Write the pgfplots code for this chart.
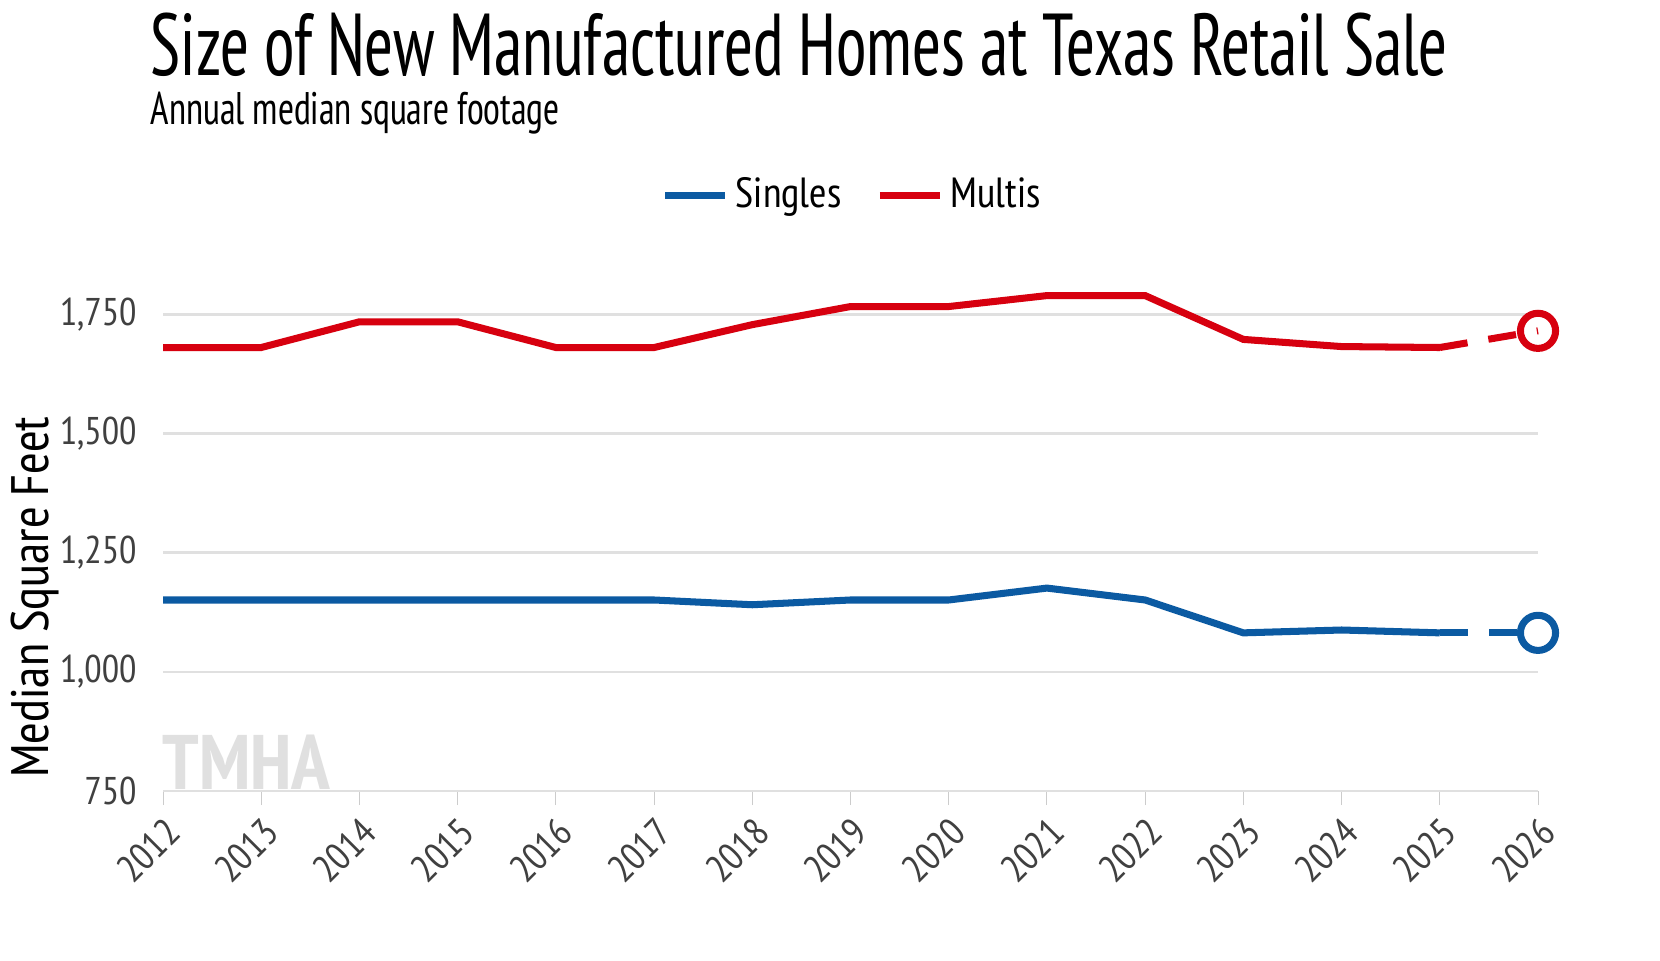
\documentclass[border=0pt]{standalone}
\usepackage{pgfplots}
\pgfplotsset{compat=1.18}
\usepackage{fontspec}
\setmainfont{PT Sans Narrow}
\definecolor{cblue}{HTML}{0B5AA2}
\definecolor{cred}{HTML}{D7000F}
\begin{document}
\begin{tikzpicture}
\useasboundingbox[fill=white] (0,0) rectangle (16.6,9.6);
\node[anchor=west,inner sep=0pt,font=\fontsize{25}{27}\selectfont] at (1.5,9.15) {\scalebox{0.8}[1]{Size of New Manufactured Homes at Texas Retail Sale}};
\node[anchor=west,inner sep=0pt,font=\fontsize{13}{14}\selectfont] at (1.5,8.47) {\scalebox{0.85}[1]{Annual median square footage}};
\begin{axis}[at={(1.63cm,1.69cm)},anchor=south west,
  width=13.75cm,height=5.24cm,scale only axis,
  xmin=2012,xmax=2026,ymin=750,ymax=1850,
  axis x line*=bottom, axis y line*=left,
  x axis line style={black!12,line width=0.8pt,-},
  y axis line style={draw=none},
  xtick={2012,...,2026},
  tick align=outside, major tick length=4pt,
  xtick style={black!20},
  x tick label style={rotate=45,anchor=north east,font=\fontsize{11}{11}\selectfont,text=black!75,inner sep=2pt},
  xticklabel={\pgfmathprintnumber[1000 sep=]{\tick}},
  ytick={750,1000,1250,1500,1750},
  ytick style={draw=none},
  y tick label style={font=\fontsize{11}{11}\selectfont,text=black!75},
  /pgf/number format/assume math mode=true,
  /pgf/number format/1000 sep={,},
  ymajorgrids, grid style={black!12,line width=0.8pt},
  ylabel={Median Square Feet},
  ylabel style={font=\fontsize{15}{15}\selectfont,at={(axis description cs:-0.093,0.37)},anchor=center},
  legend style={at={(0.503,1.137)},anchor=center,draw=none,legend columns=2,font=\fontsize{12}{12}\selectfont,/tikz/every even column/.append style={column sep=8pt}},
  clip=false]
\addplot[cblue,line width=2pt] coordinates {(2012,1151)(2013,1151)(2014,1151)(2015,1151)(2016,1151)(2017,1151)(2018,1141)(2019,1151)(2020,1151)(2021,1176)(2022,1151)(2023,1082)(2024,1088)(2025,1082)};
\addlegendentry{Singles}
\addplot[cred,line width=2pt] coordinates {(2012,1681)(2013,1681)(2014,1735)(2015,1735)(2016,1681)(2017,1681)(2018,1729)(2019,1767)(2020,1767)(2021,1790)(2022,1790)(2023,1698)(2024,1683)(2025,1681)};
\addlegendentry{Multis}
\addplot[cblue,line width=2pt,dash pattern=on 8pt off 6pt,forget plot] coordinates {(2025,1082)(2026,1082)};
\addplot[cred,line width=2pt,dash pattern=on 8pt off 6pt,forget plot] coordinates {(2025,1681)(2026,1716)};
\addplot[cblue,line width=2pt,only marks,mark=o,mark size=5pt,forget plot] coordinates {(2026,1082)};
\addplot[cred,line width=2pt,only marks,mark=o,mark size=5pt,forget plot] coordinates {(2026,1716)};
\node[text=black!12,font=\fontsize{22}{22}\selectfont\bfseries] at (axis cs:2012.85,810) {TMHA};
\end{axis}
\end{tikzpicture}
\end{document}
